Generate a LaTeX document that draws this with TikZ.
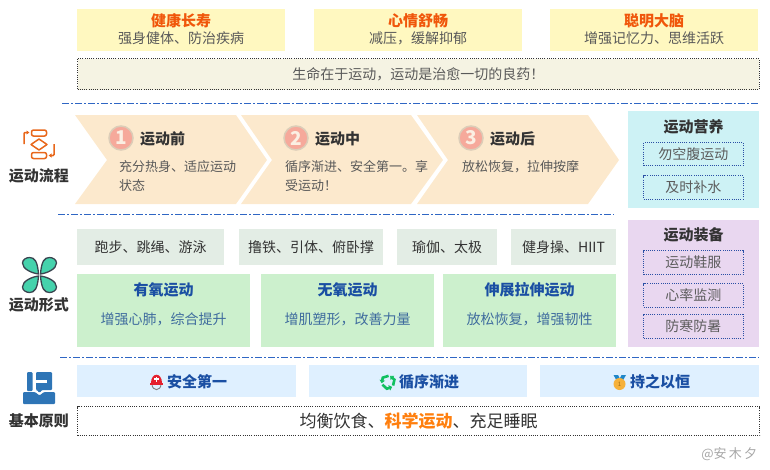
\documentclass[tikz,border=0pt]{standalone}
\usepackage{fontspec}
\setmainfont{Noto Sans CJK SC}
\usetikzlibrary{arrows.meta}
\definecolor{bodyc}{HTML}{595959}
\definecolor{darkc}{HTML}{333333}
\definecolor{bluec}{HTML}{1A4FA3}
\definecolor{subblue}{HTML}{3F6C9E}
\definecolor{dashc}{HTML}{2F66C4}
\definecolor{dotc}{HTML}{2A4FA5}
\definecolor{orangec}{HTML}{E8671B}
\definecolor{FFF8C0}{HTML}{FFF8C0}
\definecolor{E3EDE5}{HTML}{E3EDE5}
\definecolor{CCF0CD}{HTML}{CCF0CD}
\definecolor{DFF0FF}{HTML}{DFF0FF}
\definecolor{F0560A}{HTML}{F0560A}
\definecolor{FCE9CD}{HTML}{FCE9CD}
\definecolor{F6A99B}{HTML}{F6A99B}
\definecolor{DCCDB8}{HTML}{DCCDB8}
\definecolor{FBEFE3}{HTML}{FBEFE3}
\definecolor{F5F3E3}{HTML}{F5F3E3}
\definecolor{CDF2F5}{HTML}{CDF2F5}
\definecolor{E9D7F0}{HTML}{E9D7F0}
\definecolor{tealc}{HTML}{45D2AC}
\definecolor{petalline}{HTML}{3A4550}
\definecolor{iconblue}{HTML}{2E75B6}
\definecolor{E5202E}{HTML}{E5202E}
\definecolor{10C060}{HTML}{10C060}
\definecolor{1F86C8}{HTML}{1F86C8}
\definecolor{F6B13A}{HTML}{F6B13A}
\definecolor{A06B10}{HTML}{A06B10}
\definecolor{FF7F0E}{HTML}{FF7F0E}
\definecolor{A6A6A6}{HTML}{A6A6A6}
\newcommand\fsz[1]{\fontsize{#1}{#1}\selectfont}
\newcommand\bx[7][]{\node[boxbase,#1,minimum width={(#4-#2)*1pt},minimum height={(#5-#3)*1pt}] (#7) at ({(#2+#4)/2},{(#3+#5)/2}) {#6};}
\tikzset{
 boxbase/.style={inner sep=0pt,outer sep=0pt,draw=none,text=bodyc,font=\fsz{14}},
 yellowbox/.style={fill=FFF8C0},
 graybox/.style={fill=E3EDE5,text=darkc},
 greenbox/.style={fill=CCF0CD},
 bluebox/.style={fill=DFF0FF,text=bluec,font=\fsz{15}\bfseries},
 innerbox/.style={draw=dotc,line width=.7pt,dash pattern=on .9pt off 1.3pt,text=darkc!80!white},
 blackdot/.style={draw=darkc,line width=.7pt,dash pattern=on .9pt off 1.3pt},
 txt/.style={inner sep=0pt,outer sep=0pt},
 orangeT/.style={txt,text=F0560A,font=\fsz{15}\bfseries},
 subT/.style={txt,text=bodyc,font=\fsz{14}},
 sideL/.style={txt,text=darkc,font=\fsz{15}\bfseries},
 blueT/.style={txt,text=bluec,font=\fsz{15}\bfseries},
 blueS/.style={txt,text=subblue,font=\fsz{14}},
 chev/.style={fill=FCE9CD,draw=none},
 stepT/.style={txt,anchor=west,text=darkc,font=\fsz{15}\bfseries},
 stepB/.style={txt,anchor=north west,align=left,text=bodyc,font=\fontsize{13}{19}\selectfont},
 badge/.style={circle,inner sep=0pt,outer sep=0pt,minimum size=24pt,fill=F6A99B,draw=DCCDB8,line width=1.5pt,text=FBEFE3,font=\fsz{19}\bfseries},
 sep/.style={draw=dashc,line width=.9pt,dash pattern=on 7pt off 2pt on 2pt off 2pt},
 ic/.style={draw=orangec,line width=1.5pt,rounded corners=2pt,fill=none},
}
\begin{document}
\begin{tikzpicture}[x=1pt,y=-1pt]
\useasboundingbox (0,0) rectangle (770,469);
% top
\bx[yellowbox]{77}{9}{285}{51}{}{t1}
\bx[yellowbox]{314}{9}{522}{51}{}{t2}
\bx[yellowbox]{550}{9}{758}{51}{}{t3}
\node[orangeT] (t1a) at (181,21) {健康长寿};
\node[subT] (t1b) at (181,38) {强身健体、防治疾病};
\node[orangeT] (t2a) at (418,21) {心情舒畅};
\node[subT] (t2b) at (418,38) {减压，缓解抑郁};
\node[orangeT] (t3a) at (654,21) {聪明大脑};
\node[subT] (t3b) at (654,38) {增强记忆力、思维活跃};
\bx[blackdot,fill=F5F3E3,font=\fsz{14}]{77.5}{58.5}{759}{89.5}{生命在于运动，运动是治愈一切的良药！}{motto}
% separators
\coordinate (s1a) at (62,103); \coordinate (s1b) at (759,103);
\coordinate (s2a) at (58,214); \coordinate (s2b) at (614,214);
\coordinate (s3a) at (60,357); \coordinate (s3b) at (759,357);
\draw[sep] (s1a) -- (s1b);
\draw[sep] (s2a) -- (s2b);
\draw[sep] (s3a) -- (s3b);
% flow icon
\draw[ic] (31.5,130) -- (46.5,130) -- (46.5,136) -- (31.5,136) -- cycle;
\draw[ic] (31.5,152.5) -- (46.5,152.5) -- (46.5,158.5) -- (31.5,158.5) -- cycle;
\draw[ic,sharp corners,line join=round] (39,139) -- (47,144.5) -- (39,150) -- (31,144.5) -- cycle;
\draw[ic,rounded corners=1pt,-{Latex[length=3pt,width=4.5pt]}] (24,144) -- (24,132.5) -- (29.5,132.5);
\draw[ic,rounded corners=1pt,-{Latex[length=3pt,width=4.5pt]}] (54,144) -- (54,155.5) -- (48.5,155.5);
\node[sideL] (l1) at (39,176) {运动流程};
% chevrons
\fill[chev] (75,115) -- (236,115) -- (267,160) -- (236,204) -- (75,204) -- (107,160) -- cycle;
\fill[chev] (241,115) -- (411,115) -- (443,160) -- (411,204) -- (241,204) -- (272,160) -- cycle;
\fill[chev] (417,115) -- (588,115) -- (619,160) -- (588,204) -- (417,204) -- (448,160) -- cycle;
\node[badge] (b1) at (121,138) {1};
\node[badge] (b2) at (296,138) {2};
\node[badge] (b3) at (471,138) {3};
\node[stepT] (h1) at (140,139) {运动前};
\node[stepT] (h2) at (315,139) {运动中};
\node[stepT] (h3) at (490,139) {运动后};
\node[stepB] (d1) at (119,160.5) {充分热身、适应运动\\状态};
\node[stepB] (d2) at (285,160.5) {循序渐进、安全第一。享\\受运动！};
\node[stepB] (d3) at (462,160.5) {放松恢复，拉伸按摩};
% right panels
\bx[fill=CDF2F5]{628}{111}{759}{208}{}{nut}
\node[sideL] (nutT) at (693.5,127) {运动营养};
\bx[innerbox]{643.5}{142.5}{743}{165.5}{勿空腹运动}{n1}
\bx[innerbox]{643.5}{175.5}{743}{199}{及时补水}{n2}
\bx[fill=E9D7F0]{628}{220}{759}{347}{}{equ}
\node[sideL] (equT) at (693.5,235) {运动装备};
\bx[innerbox]{643.5}{250.5}{743}{274.5}{运动鞋服}{e1}
\bx[innerbox]{643.5}{283.5}{743}{307}{心率监测}{e2}
\bx[innerbox]{643.5}{314}{743}{338}{防寒防暑}{e3}
% clover
\begin{scope}[shift={(39.5,275)}]
\foreach \sx/\sy in {1/1,-1/1,1/-1,-1/-1}{
\draw[xscale=\sx,yscale=\sy,fill=tealc,draw=petalline,line width=1.3pt] (-1,-1) .. controls (-8,-2) and (-17,-6) .. (-17,-12) .. controls (-17,-15.5) and (-13,-17.5) .. (-10,-17.5) .. controls (-5,-17.5) and (-2,-14) .. (-1,-1) -- cycle;
}
\end{scope}
\node[sideL] (l2) at (39,305) {运动形式};
% kinds
\bx[graybox]{77}{229}{224}{265}{跑步、跳绳、游泳}{g1}
\bx[graybox]{239}{229}{383}{265}{撸铁、引体、俯卧撑}{g2}
\bx[graybox]{397}{229}{497}{265}{瑜伽、太极}{g3}
\bx[graybox]{511}{229}{616}{265}{健身操、HIIT}{g4}
\bx[greenbox]{77}{274}{250}{347}{}{k1}
\bx[greenbox]{261}{274}{434}{347}{}{k2}
\bx[greenbox]{443}{274}{616}{347}{}{k3}
\node[blueT] (k1a) at (163.5,290) {有氧运动};
\node[blueS] (k1b) at (163.5,319) {增强心肺，综合提升};
\node[blueT] (k2a) at (347.5,290) {无氧运动};
\node[blueS] (k2b) at (347.5,319) {增肌塑形，改善力量};
\node[blueT] (k3a) at (529.5,290) {伸展拉伸运动};
\node[blueS] (k3b) at (529.5,319) {放松恢复，增强韧性};
% base icon
\fill[iconblue,rounded corners=1pt] (27,372) rectangle (32.5,391);
\fill[iconblue,rounded corners=1pt] (36,372) -- (52,372) -- (52,390) -- (42,390) -- (39.5,393) -- (37,390) -- (36,390) -- cycle;
\fill[white] (36,380) rectangle (47,382.5);
\fill[iconblue,rounded corners=1pt] (23,392) -- (35,392) -- (39.5,395.5) -- (44,392) -- (55,392) -- (55,404) -- (23,404) -- cycle;
\node[sideL] (l3) at (39,421) {基本原则};
% principles
\bx[bluebox]{77}{365}{296}{397}{}{p1}
\bx[bluebox]{309}{365}{527}{397}{}{p2}
\bx[bluebox]{540}{365}{759}{397}{}{p3}
\node[blueT,anchor=west] (p1t) at (167,381.5) {安全第一};
\node[blueT,anchor=west] (p2t) at (399,381.5) {循序渐进};
\node[blueT,anchor=west] (p3t) at (630,381.5) {持之以恒};
% helmet
\draw[gray,line width=.9pt] (152,384) .. controls (152,391.5) and (161,391.5) .. (161,384);
\fill[E5202E] (150,382.5) -- (163,382.5) -- (163,384.5) -- (150,384.5) -- cycle;
\fill[E5202E] (151,383) .. controls (151,372) and (162,372) .. (162,383) -- cycle;
\fill[white] (155.6,376.5) rectangle (157.4,381.5);
\fill[white] (154,378.2) rectangle (159,379.9);
% recycle
\begin{scope}[shift={(388,382)}]
\foreach \a in {0,120,240}{
\draw[rotate=\a,line width=2.6pt,draw=10C060,-{Triangle[length=3pt,width=5.5pt]}] (155:6.2) -- (100:6.8) -- (50:6.4);
}
\end{scope}
% medal
\fill[1F86C8] (613.5,375) -- (618,375) -- (621,381) -- (618,383) -- cycle;
\fill[1F86C8] (626,375) -- (621.5,375) -- (618.5,381) -- (621.5,383) -- cycle;
\fill[F6B13A] (619.5,384) circle (6pt);
\node[txt,text=A06B10,font=\fsz{6}] (med) at (619.5,384) {1};
% bottom
\bx[blackdot,text=darkc,font=\fsz{17}]{77.5}{406.5}{759.5}{435.5}{均衡饮食、{\bfseries\color{FF7F0E}科学运动}、充足睡眠}{base}
\node[txt,anchor=east,text=A6A6A6,font=\fsz{13}] (wm) at (757,454) {@安\,木\,夕};
\end{tikzpicture}
\end{document}
